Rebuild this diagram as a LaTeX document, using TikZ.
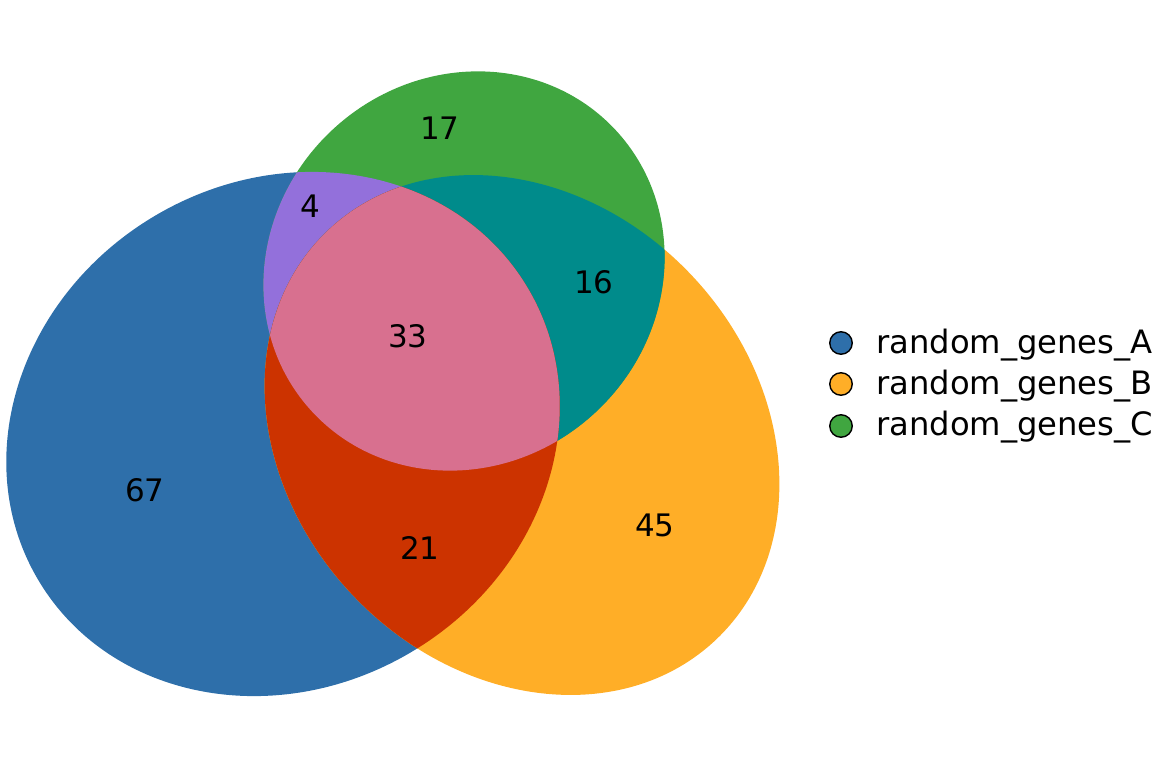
\documentclass[tikz,border=0pt]{standalone}
\usepackage{fontspec}
\setmainfont{DejaVu Sans}
\definecolor{afill}{HTML}{2E6FAA}
\definecolor{bfill}{HTML}{FFAE27}
\definecolor{cfill}{HTML}{40A640}
\definecolor{abfill}{HTML}{CC3300}
\definecolor{acfill}{HTML}{9370DB}
\definecolor{bcfill}{HTML}{008B8B}
\definecolor{abcfill}{HTML}{D8708F}
\tikzset{
  setA/.style={shift={(283,434)}, rotate=31.4},
  setB/.style={shift={(522,435)}, rotate=-46.5},
  setC/.style={shift={(464,271)}, rotate=43},
  count/.style={
    font=\fontsize{31bp}{37bp}\selectfont,
    inner sep=0pt,
  },
  keydot/.style={
    circle,
    draw=black,
    line width=1.4pt,
    minimum size=22.5bp,
    inner sep=0pt,
  },
  keylabel/.style={
    font=\fontsize{32.2bp}{38bp}\selectfont,
    anchor=base west,
    inner sep=0pt,
  },
}
\newcommand{\ellA}{(0,0) ellipse [x radius=285, y radius=253]}
\newcommand{\ellB}{(0,0) ellipse [x radius=282, y radius=233]}
\newcommand{\ellC}{(0,0) ellipse [x radius=207, y radius=193]}

\begin{document}
\begin{tikzpicture}[x=1bp, y=-1bp]
\useasboundingbox (0,0) rectangle (1152,768);

% Single sets
\fill[afill, setA] \ellA;
\fill[bfill, setB] \ellB;
\fill[cfill, setC] \ellC;

% Pairwise overlaps
\begin{scope}
  \clip[setA] \ellA;
  \fill[acfill, setC] \ellC;
\end{scope}
\begin{scope}
  \clip[setB] \ellB;
  \fill[bcfill, setC] \ellC;
\end{scope}
\begin{scope}
  \clip[setA] \ellA;
  \fill[abfill, setB] \ellB;
\end{scope}

% Triple overlap
\begin{scope}
  \clip[setA] \ellA;
  \clip[setB] \ellB;
  \fill[abcfill, setC] \ellC;
\end{scope}

% Counts
\node[count] (nA)   at (145,490) {67};
\node[count] (nB)   at (655,525) {45};
\node[count] (nC)   at (440,128) {17};
\node[count] (nAB)  at (420,548) {21};
\node[count] (nAC)  at (310,206) {4};
\node[count] (nBC)  at (594,282) {16};
\node[count] (nABC) at (408,336) {33};

% Legend
\node[keydot, fill=afill] (dotA) at (841,343) {};
\node[keydot, fill=bfill] (dotB) at (841,384) {};
\node[keydot, fill=cfill] (dotC) at (841,426) {};
\node[keylabel] (keyA) at (876,353) {random\_genes\_A};
\node[keylabel] (keyB) at (876,394) {random\_genes\_B};
\node[keylabel] (keyC) at (876,435) {random\_genes\_C};

\end{tikzpicture}
\end{document}
